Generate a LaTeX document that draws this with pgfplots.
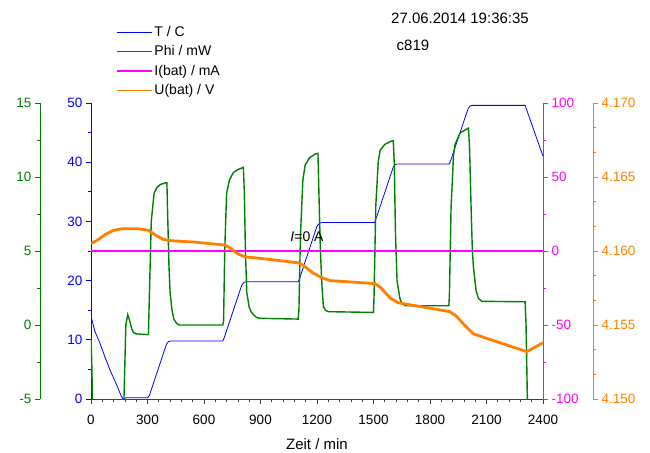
\documentclass[border=0pt]{standalone}
\usepackage{fontspec}
\setmainfont{Liberation Sans}
\usepackage{pgfplots}
\pgfplotsset{compat=1.18}
\definecolor{tcolor}{RGB}{0,0,255}
\definecolor{phicolor}{RGB}{0,128,0}
\definecolor{icolor}{rgb}{1,0,1}
\definecolor{ucolor}{RGB}{255,128,0}
\pgfplotsset{
  common/.style={scale only axis, width=452pt, height=296pt, xmin=0, xmax=2400,
    tick align=outside, major tick length=5pt, minor tick length=3pt,
    /pgf/number format/assume math mode=true,
    /pgf/number format/set thousands separator={},
    tick label style={font=\fontsize{13.5}{16}\selectfont}},
}
\begin{document}
\begin{tikzpicture}
% ---- T / C (blue, inner left axis) ----
\begin{axis}[common, name=main, ymin=0, ymax=50,
  axis y line*=left, axis x line*=bottom,
  ytick={0,10,...,50}, minor y tick num=1,
  xtick={0,300,...,2400}, minor x tick num=4,
  xticklabel style={inner ysep=11pt},
  y axis line style={color=tcolor, line width=0.8pt}, y tick style={color=tcolor, line width=0.8pt}, yticklabel style={text=tcolor},
  x axis line style={color=black!75, line width=0.8pt}, x tick style={color=black!75, line width=0.8pt},
  xlabel={Zeit / min}, xlabel style={font=\fontsize{15}{18}\selectfont, inner ysep=3pt},
  legend style={at={(0.055,1.2665)}, anchor=north west, draw=none, fill=none,
    font=\fontsize{14}{16}\selectfont, row sep=3.8pt, inner sep=0pt, nodes={inner sep=2pt}},
  legend cell align=left,
  legend image code/.code={\draw[#1] (0pt,0pt) -- (35pt,0pt);}]
\addplot[color=tcolor, line width=0.8pt] coordinates {
(0,14) (20,11.5) (48,9.4) (75,7) (101,4.9) (136,2.4) (163,0.3) (172,0) (185,0.2) (300,0.2)
(310,0.6) (400,9.2) (411,9.7) (425,9.8) (700,9.8)
(708,10.4) (800,19.2) (812,19.7) (825,19.8) (1100,19.8)
(1108,20.4) (1200,29.2) (1213,29.7) (1225,29.8) (1505,29.8)
(1512,30.3) (1605,39.2) (1614,39.6) (1625,39.7) (1903,39.7)
(1910,40.3) (2003,49.1) (2013,49.5) (2025,49.6) (2305,49.6)
(2400,41)};
\addlegendentry{T / C}
\addlegendimage{color=phicolor, line width=1.2pt}\addlegendentry{Phi / mW}
\addlegendimage{color=icolor, line width=1.4pt}\addlegendentry{I(bat) / mA}
\addlegendimage{color=ucolor, line width=1.2pt}\addlegendentry{U(bat) / V}
\end{axis}
% ---- Phi / mW (green, outer left axis) ----
\begin{axis}[common, hide x axis, ymin=-5, ymax=15,
  axis y line*=left, axis y line shift=51pt,
  ytick={-5,0,...,15}, minor y tick num=1,
  y axis line style={color=phicolor, line width=0.8pt}, y tick style={color=phicolor, line width=0.8pt}, yticklabel style={text=phicolor}]
\addplot[color=phicolor, line width=1.4pt] coordinates {
(0,-0.9) (5,-3) (10,-8) (170,-8) (175,-5) (185,0) (195,0.7) (205,0.3) (215,-0.2) (225,-0.5) (240,-0.6) (300,-0.65)
(305,-0.6) (312,3) (320,7) (335,8.9) (350,9.3) (370,9.5) (393,9.6) (403,9.6) (408,7) (414,4) (420,2.2) (430,1.0) (440,0.4) (455,0.1) (470,0) (700,0)
(704,0.3) (710,5) (720,8.9) (735,9.8) (756,10.3) (780,10.5) (809,10.65) (814,9) (820,5) (827,2.2) (840,1.2) (850,0.9) (862,0.7) (880,0.5) (900,0.45) (1100,0.4)
(1104,1) (1112,6) (1125,9.8) (1137,10.8) (1160,11.3) (1190,11.55) (1205,11.6) (1210,9) (1218,5) (1227,2.5) (1234,1.24) (1245,1.0) (1260,0.9) (1500,0.85)
(1503,2) (1512,8) (1525,11) (1535,11.8) (1560,12.2) (1590,12.4) (1605,12.45) (1610,11) (1617,6) (1625,3) (1640,1.8) (1650,1.47) (1670,1.3) (1900,1.3)
(1903,2) (1912,8) (1925,11.5) (1933,12.2) (1960,12.98) (1990,13.2) (2004,13.3) (2010,12) (2018,8) (2025,5) (2031,3.85) (2045,2.3) (2057,1.8) (2075,1.6) (2305,1.57)
(2310,0) (2317,-5) (2320,-8)};
\end{axis}
% ---- I(bat) / mA (magenta, inner right axis) ----
\begin{axis}[common, hide x axis, ymin=-100, ymax=100,
  axis y line*=right,
  ytick={-100,-50,...,100}, minor y tick num=1,
  y axis line style={color=icolor, line width=0.8pt}, y tick style={color=icolor, line width=0.8pt}, yticklabel style={text=icolor}]
\addplot[color=icolor, line width=1.4pt] coordinates {(0,0) (2400,0)};
\node[font=\fontsize{14}{16}\selectfont, anchor=center] at (axis cs:1147,9.5) {\textit{I}=0 A};
\end{axis}
% ---- U(bat) / V (orange, outer right axis) ----
\begin{axis}[common, hide x axis, ymin=4.150, ymax=4.170,
  axis y line*=right, axis y line shift=50pt,
  ytick={4.150,4.155,4.160,4.165,4.170}, minor y tick num=2, scaled y ticks=false,
  yticklabel style={text=ucolor, /pgf/number format/.cd, fixed, fixed zerofill, precision=3},
  y axis line style={color=ucolor, line width=0.8pt}, y tick style={color=ucolor, line width=0.8pt}]
\addplot[color=ucolor, line width=2.8pt] coordinates {
(0,4.1605) (30,4.1607) (74,4.1611) (120,4.1614) (163,4.1615) (250,4.1615) (305,4.1614)
(340,4.1611) (380,4.1608) (420,4.1607) (550,4.1606) (712,4.1604) (740,4.1602) (780,4.1598)
(818,4.1596) (900,4.1595) (1101,4.1592) (1130,4.1590) (1180,4.1585) (1225,4.1582) (1269,4.1580)
(1508,4.1578) (1540,4.1575) (1590,4.1568) (1632,4.1565) (1906,4.1559) (1940,4.1556) (1990,4.1549)
(2031,4.1544) (2100,4.1541) (2314,4.1532) (2400,4.1538)};
\end{axis}
\node[font=\fontsize{15}{18}\selectfont] at ([shift={(369pt,85pt)}]main.north west) {27.06.2014 19:36:35};
\node[font=\fontsize{15}{18}\selectfont] at ([shift={(322pt,58pt)}]main.north west) {c819};
\path (main.south west) ++(-91pt,-53pt) rectangle ++(650pt,452pt);
\end{tikzpicture}
\end{document}
